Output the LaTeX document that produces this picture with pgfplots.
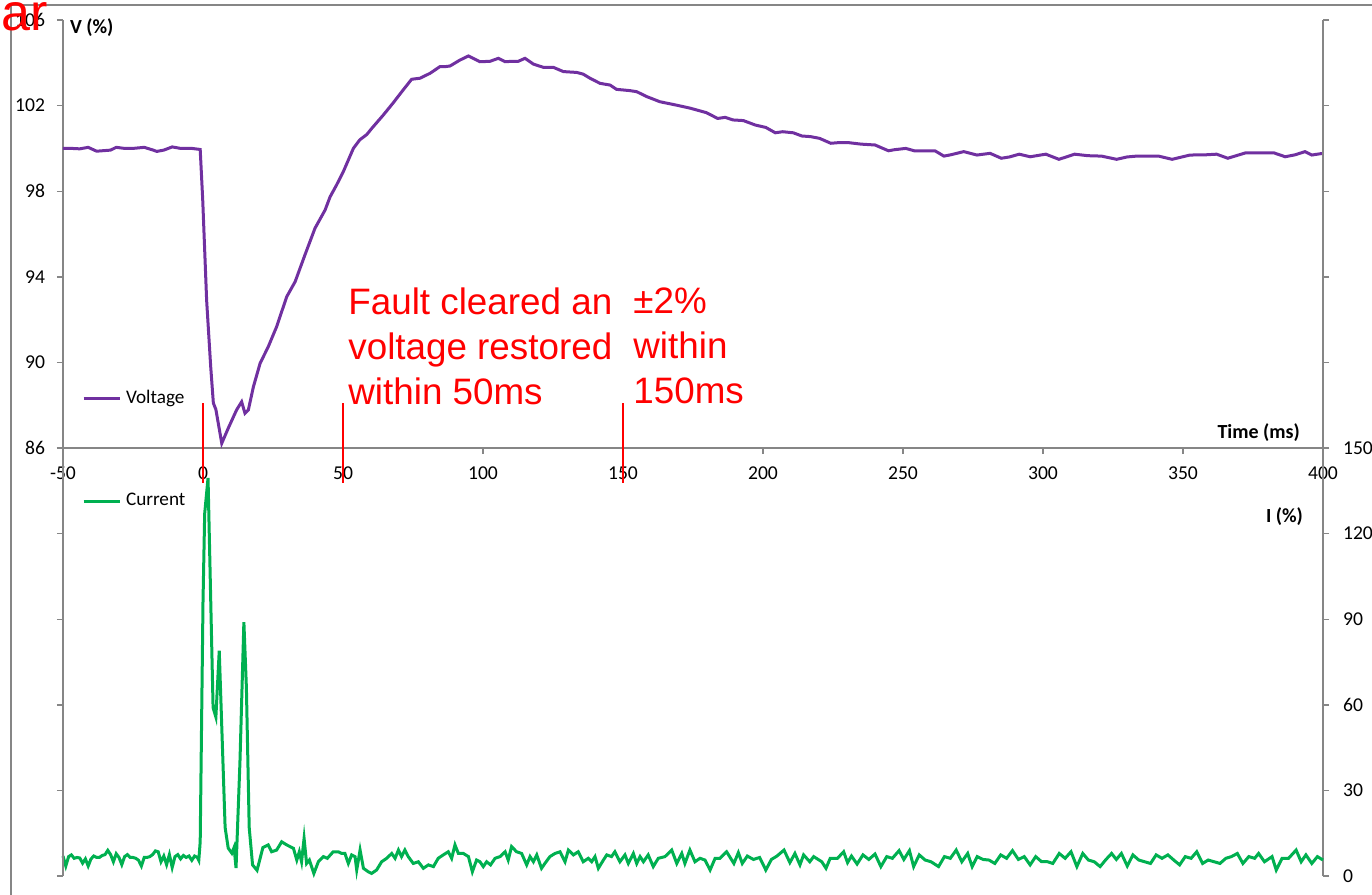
\documentclass[border=0pt]{standalone}
\usepackage{pgfplots}
\pgfplotsset{compat=1.18}
\usepackage{fontspec}
\setmainfont{Carlito}
\newfontfamily\arial{Liberation Sans}
\definecolor{vcol}{HTML}{7030A0}
\definecolor{icol}{HTML}{00B050}
\definecolor{axgray}{HTML}{868686}
\pgfplotsset{
  common/.style={scale only axis, width=630pt, height=214pt, xmin=-50, xmax=400,
    axis line style={axgray, line width=0.7pt}, tick style={axgray, line width=0.7pt},
    major tick length=3pt, tick align=outside,
    /pgf/number format/assume math mode=true,
    ticklabel style={font=\fontsize{9.8}{11}\selectfont},
    clip=false},
  leg/.style={legend style={draw=none, fill=none, inner sep=0pt, outer sep=0pt,
    font=\fontsize{9.6}{11}\selectfont, column sep=2.5pt, nodes={inner sep=0pt}},
    legend cell align=left,
    legend image code/.code={\draw[##1, line width=1.5pt] (0pt,0pt) -- (18pt,0pt);}},
}
\begin{document}
\begin{tikzpicture}
\path[use as bounding box] (0,0) rectangle (686pt,-447.5pt);
\draw[axgray, line width=0.6pt] (5.5pt,-447.5pt) -- (5.5pt,-2.5pt) -- (686pt,-2.5pt);

% ---------- Voltage (top) ----------
\begin{axis}[common, leg, at={(31.5pt,-224pt)}, anchor=south west,
  ymin=86, ymax=106, axis x line*=bottom, axis y line*=left,
  xtick={-50,0,...,400}, ytick={86,90,...,106},
  xticklabel style={yshift=-3pt}, yticklabel style={xshift=-2.5pt},
  legend style={at={(rel axis cs:0.0151,0.1168)}, anchor=west}]
\addplot[vcol, line width=1.5pt] coordinates {
(-50,100.0) (-47,100.0) (-44,99.98) (-41,100.05) (-38,99.87) (-35,99.9) (-33,99.92) (-31,100.05) (-28,100.0) (-25,100.0) (-21,100.05) (-18,99.93) (-16.5,99.86) (-14,99.92) (-11,100.07) (-8,100.0) (-4,100.0) (-1,99.95) (-0.1,97.6) (1.3,92.9) (2.75,89.8) (3.7,88.1) (4.6,87.8) (6.7,86.22) (9.0,86.92) (12.0,87.78) (13.8,88.16) (15,87.62) (16.2,87.78) (18,88.86) (20.4,89.96) (23.3,90.73) (26.3,91.67) (29.9,93.07) (32.9,93.77) (36.4,95.02) (40,96.27) (43.6,97.12) (45.4,97.74) (47.7,98.29) (50.1,98.91) (53.7,100.0) (56,100.4) (58.5,100.65) (60.3,100.94) (64.4,101.56) (68,102.14) (71,102.65) (74.5,103.23) (77.5,103.28) (81.1,103.51) (84.6,103.82) (86.4,103.82) (88.2,103.85) (91.8,104.13) (94.8,104.32) (98.9,104.05) (102.5,104.07) (105.5,104.21) (107.9,104.05) (110.3,104.07) (112.6,104.07) (115,104.21) (118,103.94) (121.5,103.79) (125.1,103.79) (128.7,103.59) (133.5,103.55) (135.8,103.47) (138.2,103.28) (141.8,103.04) (145.4,102.96) (147.7,102.76) (152.5,102.70) (154.9,102.65) (158.5,102.42) (163.2,102.18) (168.8,102.03) (174,101.88) (179.8,101.67) (183.8,101.40) (186.5,101.45) (189.3,101.33) (193,101.3) (197.3,101.09) (201,100.98) (204.4,100.73) (207,100.78) (210.8,100.73) (213.9,100.58) (217,100.55) (220.2,100.47) (224.2,100.24) (227,100.27) (230.5,100.27) (235,100.2) (240,100.16) (244.8,99.89) (247,99.94) (251,100.0) (254,99.89) (258,99.89) (261.4,99.89) (264.6,99.64) (267,99.7) (271.7,99.85) (276.4,99.69) (281.1,99.77) (285.1,99.54) (288,99.6) (291.5,99.73) (295.4,99.61) (301,99.73) (305.7,99.49) (311.3,99.73) (316,99.66) (320.9,99.64) (326.3,99.49) (330,99.6) (333.4,99.64) (341.3,99.64) (346.1,99.49) (352.5,99.69) (358,99.7) (362,99.73) (366,99.54) (372.3,99.79) (382.5,99.79) (386.5,99.61) (390,99.7) (393.6,99.85) (396,99.69) (400,99.77)
};
\addlegendentry{Voltage}
\draw[red, line width=1pt] (axis cs:0,88.1) -- (axis cs:0,84.36);
\draw[red, line width=1pt] (axis cs:50,88.1) -- (axis cs:50,84.36);
\draw[red, line width=1pt] (axis cs:150,88.1) -- (axis cs:150,84.36);
\node[anchor=west, font=\bfseries\fontsize{10}{12}\selectfont, xshift=0pt, yshift=-4pt] at (rel axis cs:0,1) {V (\%)};
\node[anchor=east, font=\bfseries\fontsize{10}{12}\selectfont, xshift=-8pt, yshift=7.5pt] at (rel axis cs:1,0) {Time (ms)};
\end{axis}
\begin{axis}[common, at={(31.5pt,-224pt)}, anchor=south west,
  ymin=86, ymax=106, axis x line=none, axis y line*=right,
  xtick=\empty, ytick={86,90,...,106}, yticklabels={}]
\end{axis}

% ---------- Current (bottom) ----------
\begin{axis}[common, leg, at={(31.5pt,-438pt)}, anchor=south west,
  ymin=0, ymax=150, axis x line=none, axis y line*=right,
  xtick=\empty, ytick={0,30,...,150}, yticklabel style={xshift=3.5pt},
  legend style={at={(rel axis cs:0.0151,0.876)}, anchor=west}]
\addplot[icol, line width=1.5pt] coordinates {
(-50,7.0) (-49,3.5) (-48,6.8) (-47,7.4) (-46,6.2) (-45,6.5) (-44,6.3) (-43,4.5) (-42,6.0) (-41,3.5) (-40,6.0) (-39,7.0) (-38,6.5) (-37,6.5) (-36,7.2) (-35,7.5) (-34,9.0) (-33,7.5) (-32,5.0) (-31,7.8) (-30,6.5) (-29,4.0) (-28,6.8) (-27,7.5) (-26,6.5) (-25,6.5) (-24,6.2) (-23,5.5) (-22,3.5) (-21,6.5) (-20,6.5) (-19,6.8) (-18,7.5) (-17,8.8) (-16,8.5) (-15,5.0) (-14,7.0) (-13,4.0) (-12,7.5) (-11,3.0) (-10,6.8) (-9,7.5) (-8,6.0) (-7,7.2) (-6,6.5) (-5,7.0) (-4,5.5) (-3,7.0) (-2,6.5) (-1.5,5.5) (-1,12) (0,96) (0.6,127) (1.8,139.5) (3.6,59) (4.6,55.7) (5.8,79) (7.9,17) (9,9.8) (10.3,8) (11.1,10) (11.8,2.8) (13.2,40) (14.6,89) (15.5,66) (16.5,17) (17.7,3.9) (19.3,2) (21.4,10) (23.3,10.9) (24.5,8.5) (26.3,9.1) (28.1,12.0) (29.9,10.9) (32.3,9.7) (33.5,5.6) (34.4,8.5) (35.2,5.0) (36.1,13.2) (37.0,4.4) (38.0,5.6) (39.6,0.9) (41.2,5.0) (43.0,6.8) (44.4,6.2) (46.5,8.5) (48.3,8.5) (49.5,7.9) (50.7,7.9) (51.9,4.4) (53.1,7.4) (54.3,6.8) (54.9,2.1) (56.1,9.1) (57.3,2.7) (59.0,1.5) (60.2,0.9) (62.0,2.1) (63.8,5.0) (65.6,6.2) (67.4,7.9) (68.6,6.2) (69.8,9.1) (70.9,6.8) (72.1,9.1) (73.3,6.8) (75.1,4.4) (76.9,5.0) (78.7,2.7) (80.5,3.9) (82.3,3.3) (84.0,6.2) (85.8,7.4) (87.6,8.5) (88.8,6.2) (90.0,10.9) (91.2,7.9) (93.0,7.9) (94.8,6.8) (96.2,1.5) (97.7,5.6) (98.9,5.0) (100.1,3.3) (101.3,5.0) (102.7,3.9) (104.3,6.2) (106.1,6.8) (107.9,8.5) (109.0,5.6) (110.2,10.3) (112.0,8.5) (113.8,7.9) (115.6,3.9) (116.8,6.8) (118.0,5.0) (119.2,7.4) (120.9,2.7) (122.1,4.4) (123.9,6.8) (125.7,7.9) (127.5,8.5) (129.3,5.0) (130.5,9.1) (132.3,7.4) (134.0,8.5) (135.8,5.0) (137.6,6.2) (138.8,5.0) (140.0,6.8) (141.2,2.7) (143.0,5.6) (144.2,7.4) (145.9,6.8) (147.1,8.5) (148.9,5.0) (150.7,7.4) (151.9,4.4) (153.7,7.9) (154.9,4.4) (156.1,6.8) (157.3,5.0) (159.0,7.4) (160.8,3.3) (162.6,6.2) (165.0,6.8) (167.4,9.1) (169.2,4.4) (171.0,7.9) (172.1,4.4) (173.9,9.1) (175.7,5.0) (177.5,6.2) (179.3,5.6) (181.1,2.1) (182.9,6.2) (184.6,6.2) (187.0,8.5) (189.6,4.4) (191.2,8.2) (192.6,4.4) (194.4,7.0) (196.6,5.8) (198.8,6.5) (201,2.1) (203,5.8) (205,7.0) (207.5,9.1) (209.6,4.7) (211.4,7.9) (213.2,3.9) (214.5,7.4) (216.7,5.0) (218.1,6.8) (221,5.0) (222.5,2.7) (224,6.2) (226.6,6.2) (228.8,8.5) (230.2,4.7) (231.6,7.0) (233.6,4.2) (235.7,7.4) (237.8,5.8) (240,7.7) (242.1,3.3) (244.2,6.8) (246.2,6.2) (248.6,8.9) (250.3,5.8) (252.3,8.9) (253.8,3.3) (255.8,7.4) (257.9,5.6) (260,5.0) (262.7,3.3) (264.8,6.8) (266.9,6.2) (269,9.1) (271,5.0) (273.1,7.9) (274.7,3.3) (276.5,6.8) (278.6,5.8) (280.7,5.6) (282.8,4.4) (284.9,7.4) (287,6.2) (289.1,8.9) (291.2,5.8) (293.3,6.8) (295.4,3.9) (297.4,6.8) (299.5,5.0) (301.6,5.0) (303.5,4.4) (305.8,7.9) (307.9,6.2) (310,8.5) (312.1,3.3) (314.2,7.9) (316.2,5.6) (318.3,5.0) (320.4,3.3) (322.5,5.8) (324.5,7.9) (326.2,5.8) (328,7.9) (330.1,3.5) (332.1,7.4) (334.2,5.6) (336.3,5.0) (338.4,4.4) (340.4,7.4) (342.5,6.2) (344.6,7.4) (346.7,5.6) (348.8,3.9) (350.8,6.8) (352.9,6.2) (354.9,8.5) (357,4.4) (359,5.6) (361.1,5.0) (363.2,4.4) (365.3,6.2) (367.3,6.8) (369.4,7.9) (371.4,4.4) (373.5,6.8) (375.6,6.2) (377,7.9) (379.1,5.0) (381.8,6.8) (383.3,2.1) (385.4,6.2) (387.7,6.2) (390.4,9.1) (392.2,5.0) (393.9,7.4) (396,4.4) (398,6.8) (400,5.6)
};
\addlegendentry{Current}
\node[anchor=east, font=\bfseries\fontsize{10}{12}\selectfont, xshift=-6.5pt, yshift=-34.5pt] at (rel axis cs:1,1) {I (\%)};
\end{axis}
\begin{axis}[common, at={(31.5pt,-438pt)}, anchor=south west,
  ymin=0, ymax=150, axis x line=none, axis y line*=left,
  xtick=\empty, ytick={0,30,...,150}, yticklabels={}]
\end{axis}

% ---------- red annotations ----------
\node[anchor=north west, inner sep=0pt, align=left, text=red,
  font=\arial\fontsize{18.4}{22.5}\selectfont] at (174pt,-143.5pt)
  {Fault cleared an\\voltage restored\\within 50ms};
\node[anchor=north west, inner sep=0pt, align=left, text=red,
  font=\arial\fontsize{18.4}{22.5}\selectfont] at (316.5pt,-143.5pt)
  {±2\%\\within\\150ms};
\node[anchor=base west, inner sep=0pt, text=red,
  font=\arial\fontsize{26}{30}\selectfont] at (0.5pt,-15pt) {ar};
\end{tikzpicture}
\end{document}
